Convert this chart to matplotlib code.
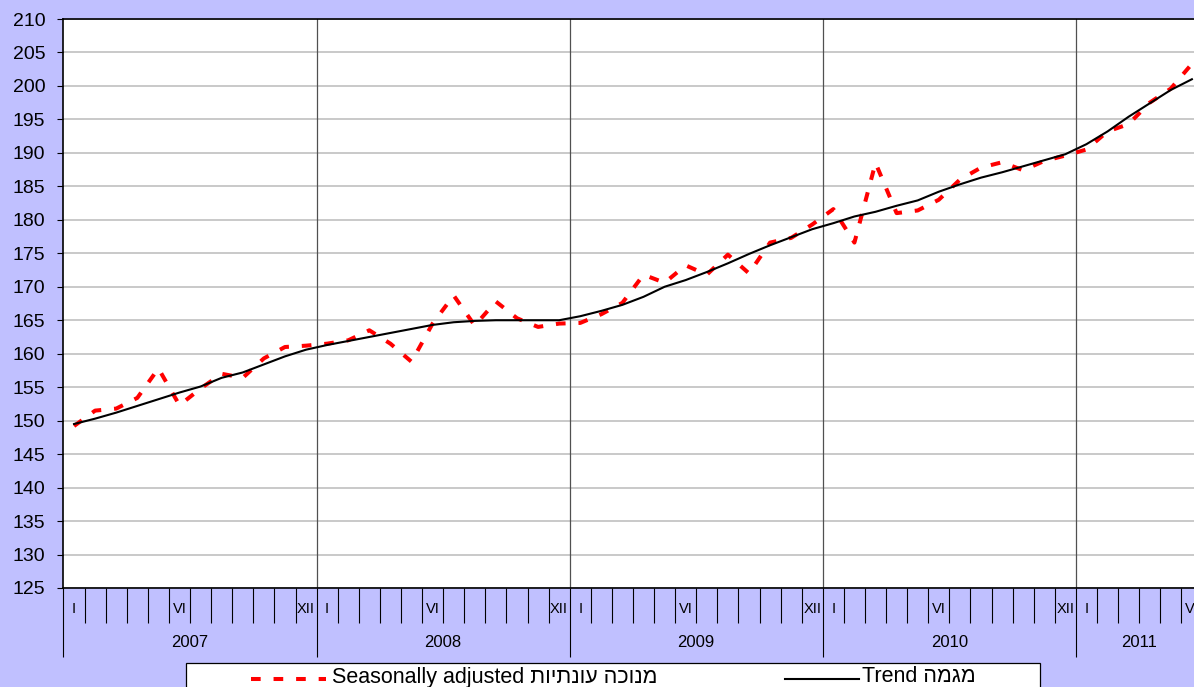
import numpy as np
import matplotlib.pyplot as plt
from matplotlib.lines import Line2D
from matplotlib.patches import Rectangle

plt.rcParams['font.family'] = ['Liberation Sans', 'DejaVu Sans']

years = [2007, 2008, 2009, 2010, 2011]
month_names = {0: 'I', 5: 'VI', 11: 'XII'}  # only these months get a label

# Jan 2007 .. Jun 2011, one value per month
seasonally_adjusted = [
    149.2, 151.5, 151.8, 153.4, 157.8, 152.3, 154.8, 157.0, 156.4, 159.3, 161.0, 161.2,
    161.5, 162.0, 163.5, 161.5, 158.8, 164.5, 168.7, 164.2, 167.8, 165.3, 164.0, 164.5,
    164.6, 165.9, 167.6, 171.8, 170.6, 173.2, 171.8, 174.8, 172.0, 176.6, 177.3, 179.3,
    181.6, 176.6, 188.5, 181.0, 181.4, 183.0, 186.0, 187.8, 188.6, 187.4, 188.8, 189.6,
    190.5, 193.2, 194.3, 197.5, 199.6, 203.3,
]
trend = [
    149.5, 150.3, 151.2, 152.2, 153.2, 154.2, 155.1, 156.4, 157.2, 158.4, 159.6, 160.6,
    161.3, 161.9, 162.5, 163.1, 163.7, 164.3, 164.7, 164.9, 165.0, 165.0, 165.0, 165.0,
    165.6, 166.4, 167.3, 168.5, 170.0, 171.0, 172.2, 173.5, 174.9, 176.2, 177.4, 178.6,
    179.5, 180.5, 181.2, 182.1, 182.9, 184.2, 185.3, 186.3, 187.1, 188.0, 188.9, 189.8,
    191.3, 193.2, 195.4, 197.4, 199.4, 201.0,
]
y_ticks = list(range(125, 211, 5))

label_sa_heb = 'מנוכה עונתיות'
label_sa_eng = 'Seasonally adjusted'
label_trend_heb = 'מגמה'
label_trend_eng = 'Trend'


def visual(heb):
    # matplotlib has no bidi support, hebrew has to be given in visual order
    return heb[::-1]


W, H = 1194, 687
x = np.arange(len(trend))

fig = plt.figure(figsize=(W / 100, H / 100), dpi=100, facecolor='#c0c0ff')
ax = fig.add_axes([63.5 / W, (H - 588) / H, 1 - 63.5 / W, (588 - 19) / H])
ax.set_facecolor('white')

ax.plot(x, seasonally_adjusted, color='red', lw=2.9, dashes=(2.4, 3.2),
        solid_capstyle='butt', zorder=3)
ax.plot(x, trend, color='black', lw=1.5, zorder=4)

ax.set_ylim(125, 210)
ax.set_xlim(-0.5, 53.1)
ax.set_yticks(y_ticks)
ax.yaxis.grid(True, color='#c0c0c0', lw=1.2)
ax.set_axisbelow(True)
ax.tick_params(axis='y', labelsize=14, length=4.5, width=0.8, pad=8.5)

# month / year ticks under the axis
year_edges = [12 * i - 0.5 for i in range(len(years))]
month_edges = [m - 0.5 for m in range(len(trend))]
ax.set_xticks(year_edges)
ax.set_xticks(month_edges, minor=True)
ax.tick_params(axis='x', which='major', length=49.5, width=0.8, labelbottom=False)
ax.tick_params(axis='x', which='minor', length=25, width=0.8)
for b in year_edges[1:]:
    ax.axvline(b, color='#505050', lw=0.9, zorder=2)

tr = ax.get_xaxis_transform()
for i in x:
    m = i % 12
    if m in month_names:
        # the last one is cut by the right edge, as in the original
        ax.text(i, -0.037, month_names[m], transform=tr, ha='center', va='center',
                fontsize=10.5, clip_on=False)
for k, yr in enumerate(years):
    idx = [i for i in x if i // 12 == k]
    ax.text(np.mean(idx), -0.0965, str(yr), transform=tr, ha='center', va='center',
            fontsize=12)

for s in ['left', 'bottom', 'top']:
    ax.spines[s].set_linewidth(1.2)
ax.spines['right'].set_visible(False)


# legend box (bottom part is cut by the picture edge like in the original)
def fx(px):
    return px / W


def fy(py):
    return 1 - py / H


fig.add_artist(Rectangle((fx(185.5), fy(705)), fx(1040) - fx(185.5), fy(662.5) - fy(705),
                         transform=fig.transFigure, facecolor='white', edgecolor='black',
                         lw=0.9))
fig.add_artist(Line2D([fx(250.5), fx(326)], [fy(678.5)] * 2, transform=fig.transFigure,
                      color='red', lw=2.9, dashes=(2.4, 3.2)))
fig.text(fx(332), fy(677), label_sa_eng + ' ' + visual(label_sa_heb), fontsize=15.5,
         va='center', ha='left')
fig.add_artist(Line2D([fx(785), fx(859)], [fy(678.5)] * 2, transform=fig.transFigure,
                      color='black', lw=1.5))
fig.text(fx(862), fy(677), label_trend_eng + ' ' + visual(label_trend_heb), fontsize=15.5,
         va='center', ha='left')

fig.savefig('out.png', dpi=100, facecolor=fig.get_facecolor())
